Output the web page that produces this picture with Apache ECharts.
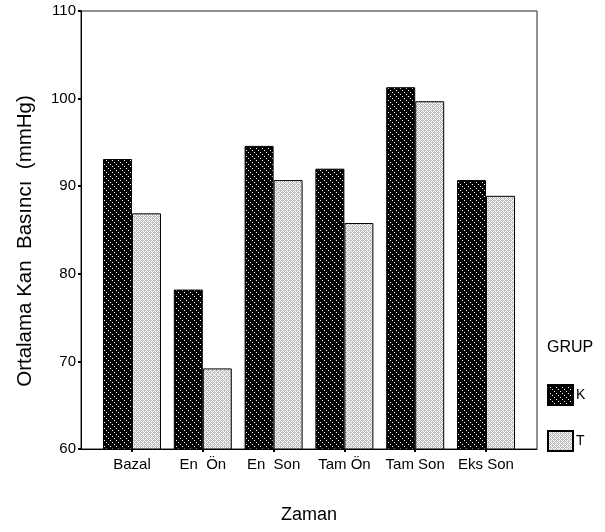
<!DOCTYPE html>
<html>
<head>
<meta charset="utf-8">
<script src="https://cdn.jsdelivr.net/npm/echarts@6/dist/echarts.min.js"></script>
<style>
  html, body { margin: 0; padding: 0; background: #fff; }
  #chart { width: 605px; height: 532px; }
</style>
</head>
<body>
<div id="chart"></div>
<script>
// data
const categories = ['Bazal', 'En  Ön', 'En  Son', 'Tam Ön', 'Tam Son', 'Eks Son'];
const groupNames = ['K', 'T'];
const valuesK = [93.1, 78.2, 94.6, 92.0, 101.3, 90.7];
const valuesT = [86.9, 69.2, 90.7, 85.8, 99.7, 88.9];
const yTicks = [60, 70, 80, 90, 100, 110];

// hatch fills like the old SPSS ones
function makeHatch() {
  let c = document.createElement('canvas');
  c.width = 6; c.height = 6;
  let ctx = c.getContext('2d');
  ctx.fillStyle = '#000';
  ctx.fillRect(0, 0, 6, 6);
  ctx.fillStyle = '#fff';
  for (let i = 0; i < 6; i += 2) {
    ctx.fillRect(i, i, 1, 1);
  }
  return c;
}
function makeDots() {
  let c = document.createElement('canvas');
  c.width = 4; c.height = 4;
  let ctx = c.getContext('2d');
  ctx.fillStyle = '#c0c0c0';
  ctx.fillRect(0, 0, 4, 4);
  ctx.fillStyle = '#fff';
  [[0, 0], [2, 2], [1, 1], [3, 3], [3, 1], [1, 3]].forEach(([x, y]) => ctx.fillRect(x, y, 1, 1));
  return c;
}

const font = 'Liberation Sans';
let chart = echarts.init(document.getElementById('chart'));

chart.setOption({
  animation: false,
  textStyle: {fontFamily: font, color: '#000'},
  title: {
    text: 'GRUP',
    left: 542,
    top: 335,
    textStyle: {fontFamily: font, fontSize: 16, fontWeight: 'normal', color: '#000'}
  },
  legend: {
    orient: 'vertical',
    left: 542,
    top: 379,
    icon: 'rect',
    itemWidth: 25,
    itemHeight: 20,
    itemGap: 24,
    data: groupNames,
    textStyle: {fontFamily: font, fontSize: 14, color: '#000', padding: [0, 0, 0, -2]}
  },
  grid: {
    left: 81,
    right: 68,
    top: 11,
    bottom: 83,
    show: true,
    borderColor: '#222',
    borderWidth: 1
  },
  xAxis: {
    type: 'value',
    min: -0.72,
    max: 5.72,
    name: 'Zaman',
    nameLocation: 'middle',
    nameGap: 57,
    nameTextStyle: {fontFamily: font, fontSize: 18, color: '#000'},
    axisLine: {onZero: false, lineStyle: {color: '#000'}},
    splitLine: {show: false},
    axisTick: {
      show: true,
      length: 3,
      lineStyle: {color: '#000', width: 2},
      customValues: categories.map((c, i) => i)
    },
    axisLabel: {
      fontSize: 15,
      color: '#000',
      margin: 8,
      customValues: categories.map((c, i) => i),
      formatter: (v) => categories[Math.round(v)]
    }
  },
  yAxis: {
    type: 'value',
    min: yTicks[0],
    max: yTicks[yTicks.length - 1],
    interval: 10,
    name: 'Ortalama Kan  Basıncı  (mmHg)',
    nameLocation: 'middle',
    nameGap: 45,
    nameTextStyle: {fontFamily: font, fontSize: 20.5, color: '#000', padding: [0, 22, 0, 0]},
    axisLine: {show: true, onZero: false, lineStyle: {color: '#000'}},
    splitLine: {show: false},
    axisTick: {show: true, length: 3, lineStyle: {color: '#000', width: 2}},
    axisLabel: {fontSize: 15, color: '#000', margin: 5}
  },
  series: [
    {
      name: groupNames[0],
      type: 'bar',
      barWidth: 29,
      barGap: '0%',
      data: valuesK.map((v, i) => [i, v]),
      itemStyle: {
        color: {image: makeHatch(), repeat: 'repeat'},
        borderColor: '#000',
        borderWidth: 1
      }
    },
    {
      name: groupNames[1],
      type: 'bar',
      barWidth: 29,
      barGap: '0%',
      data: valuesT.map((v, i) => [i, v]),
      itemStyle: {
        color: {image: makeDots(), repeat: 'repeat'},
        borderColor: '#000',
        borderWidth: 1
      }
    }
  ]
});
</script>
</body>
</html>
